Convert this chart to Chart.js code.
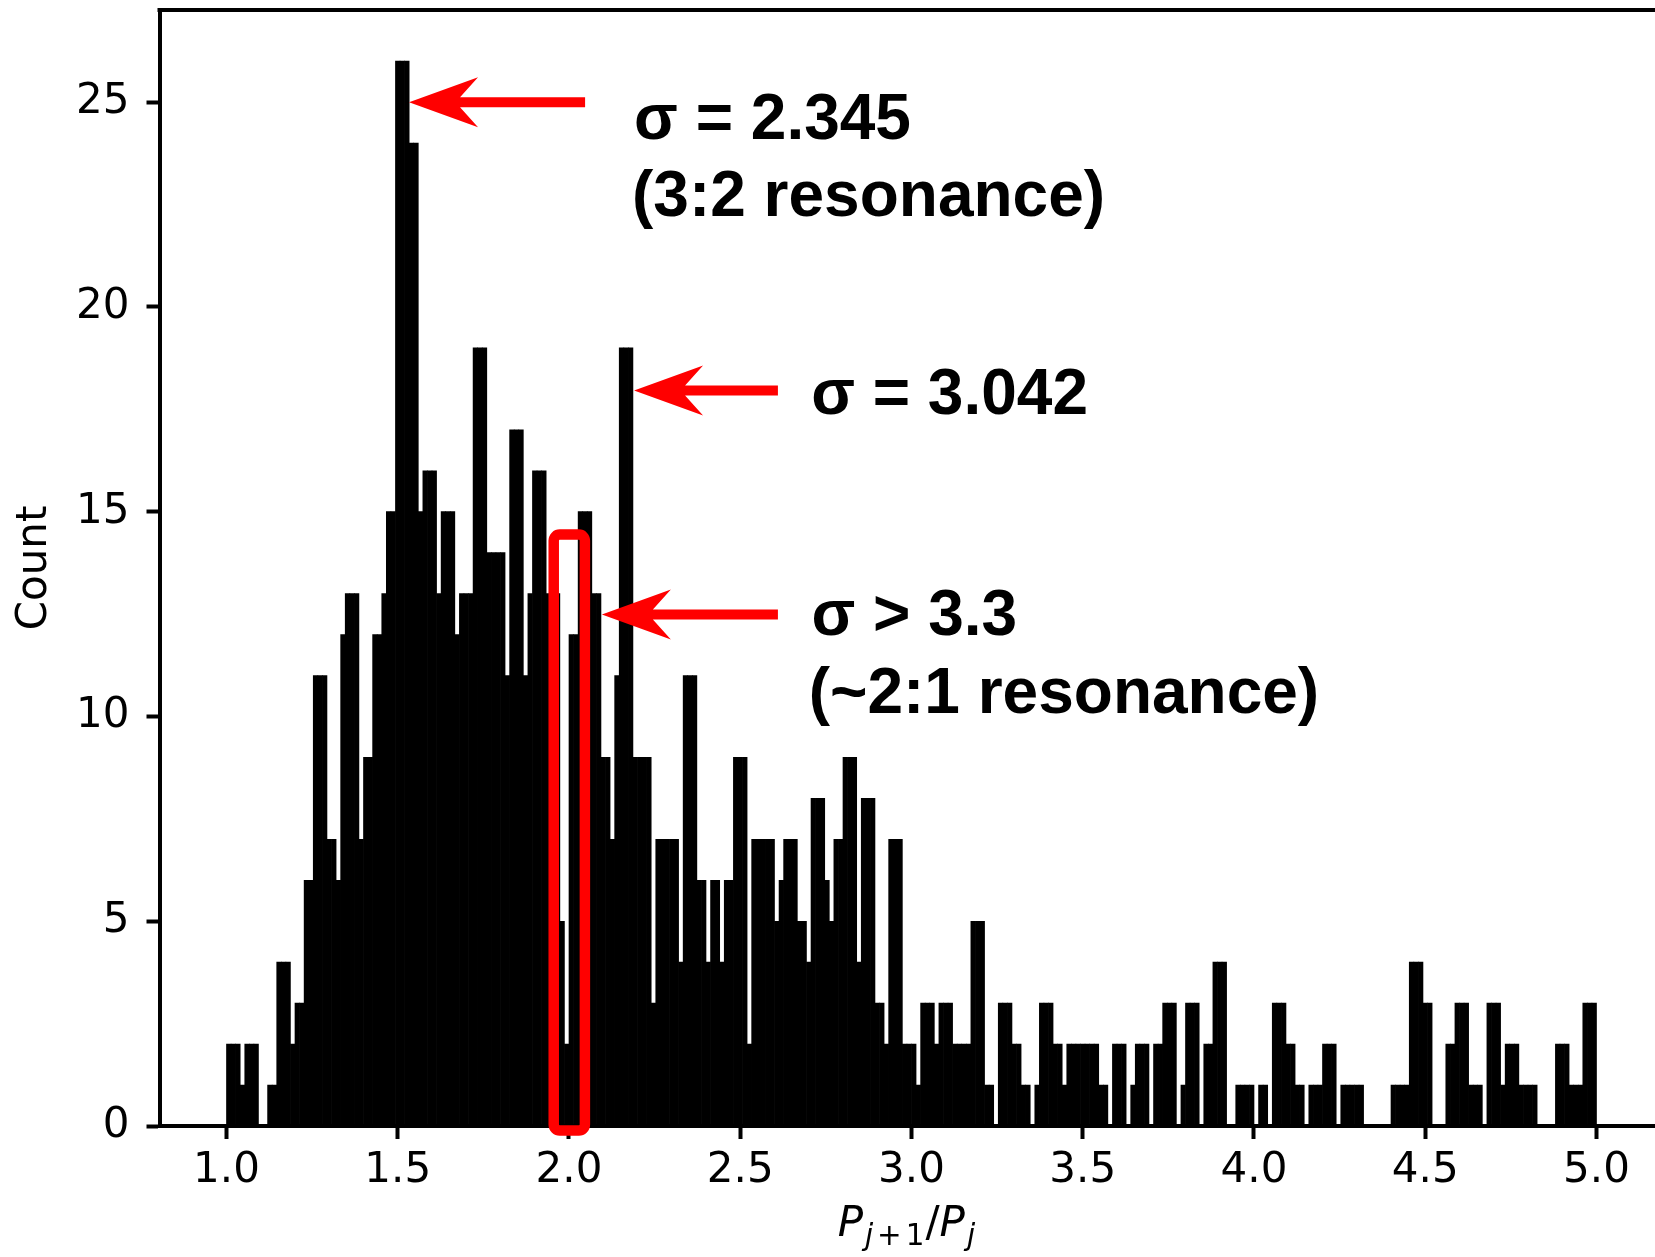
<!DOCTYPE html>
<html>
<head>
<meta charset="utf-8">
<title>Period ratio histogram</title>
<script src="https://cdn.jsdelivr.net/npm/chart.js@4.4.1/dist/chart.umd.min.js"></script>
<style>
  html, body { margin: 0; padding: 0; background: #fff; overflow: hidden; }
  canvas { display: block; }
</style>
</head>
<body>
<canvas id="hist" width="1655" height="1257"></canvas>
<script>
// P_{j+1}/P_j histogram : 300 bins between 1 and 5
var binStart = 1.0;
var binEnd = 5.0;
var counts = [
  2, 2, 2, 1, 2, 2, 2, 0, 0, 1,
  1, 4, 4, 4, 2, 3, 3, 6, 6, 11,
  11, 11, 7, 7, 6, 12, 13, 13, 13, 7,
  9, 9, 12, 12, 13, 15, 15, 26, 26, 26,
  24, 24, 15, 16, 16, 16, 13, 15, 15, 15,
  12, 13, 13, 13, 19, 19, 19, 14, 14, 14,
  14, 11, 17, 17, 17, 11, 13, 16, 16, 16,
  13, 13, 13, 5, 2, 12, 12, 15, 15, 15,
  13, 13, 9, 9, 7, 11, 19, 19, 19, 9,
  9, 9, 9, 3, 7, 7, 7, 7, 7, 4,
  11, 11, 11, 6, 6, 4, 6, 6, 4, 6,
  6, 9, 9, 9, 2, 7, 7, 7, 7, 7,
  5, 6, 7, 7, 7, 5, 5, 4, 8, 8,
  8, 6, 5, 7, 7, 9, 9, 9, 4, 8,
  8, 8, 3, 3, 2, 7, 7, 7, 2, 2,
  2, 1, 3, 3, 3, 2, 3, 3, 3, 2,
  2, 2, 2, 5, 5, 5, 1, 1, 0, 3,
  3, 3, 2, 2, 1, 1, 0, 1, 3, 3,
  3, 2, 2, 1, 2, 2, 2, 2, 2, 2,
  2, 1, 1, 0, 2, 2, 2, 0, 1, 2,
  2, 2, 0, 2, 2, 3, 3, 3, 0, 1,
  3, 3, 3, 0, 2, 2, 4, 4, 4, 0,
  0, 1, 1, 1, 1, 0, 1, 1, 0, 3,
  3, 3, 2, 2, 1, 1, 0, 1, 1, 1,
  2, 2, 2, 0, 1, 1, 1, 1, 1, 0,
  0, 0, 0, 0, 0, 1, 1, 1, 1, 4,
  4, 4, 3, 3, 0, 0, 0, 2, 2, 3,
  3, 3, 1, 1, 1, 0, 3, 3, 3, 1,
  2, 2, 2, 1, 1, 1, 1, 0, 0, 0,
  0, 2, 2, 2, 1, 1, 1, 3, 3, 3
];
var xTicks = [1.0, 1.5, 2.0, 2.5, 3.0, 3.5, 4.0, 4.5, 5.0];
var yTicks = [0, 5, 10, 15, 20, 25];

// red call-outs (x in ratio units, y in counts)
var arrowTip  = [1.533, 2.190, 2.096];
var arrowTail = [2.047, 2.610, 2.610];
var arrowY    = [25.0, 17.96, 12.49];
var noteText  = ['σ = 2.345', '(3:2 resonance)', 'σ = 3.042', 'σ > 3.3', '(~2:1 resonance)'];
var noteX     = [2.190, 2.184, 2.707, 2.708, 2.700];
var noteY     = [24.09, 22.21, 17.39, 11.99, 10.09];
var boxX = [1.9554, 2.0464];
var boxY = [-0.11, 14.44];

var binW = (binEnd - binStart) / counts.length;
var points = counts.map(function (c, i) {
  return { x: binStart + (i + 0.5) * binW, y: c };
});

var axisFont = { family: "'DejaVu Sans', sans-serif", size: 42 };

function drawArrow(ctx, tipX, tailX, y) {
  ctx.beginPath();
  ctx.moveTo(tipX, y);
  ctx.lineTo(tipX + 69, y - 25);
  ctx.lineTo(tipX + 51, y - 5);
  ctx.lineTo(tailX, y - 5);
  ctx.lineTo(tailX, y + 5);
  ctx.lineTo(tipX + 51, y + 5);
  ctx.lineTo(tipX + 69, y + 25);
  ctx.closePath();
  ctx.fill();
}

// mathtext-like P_{j+1}/P_j
function drawRatioLabel(ctx, cx, base) {
  var big = 42, small = 29.4, drop = 9;
  var it = 'italic ', fam = 'px "DejaVu Sans"';
  var parts = [
    { t: 'P', f: it + big + fam, dy: 0, gap: 2 },
    { t: 'j', f: it + small + fam, dy: drop, gap: 4 },
    { t: '+', f: small + fam, dy: drop, gap: 4 },
    { t: '1', f: small + fam, dy: drop, gap: 1 },
    { t: '/', f: big + fam, dy: 0, gap: 0 },
    { t: 'P', f: it + big + fam, dy: 0, gap: 2 },
    { t: 'j', f: it + small + fam, dy: drop, gap: 0 }
  ];
  var total = 0;
  parts.forEach(function (p) {
    ctx.font = p.f;
    p.w = ctx.measureText(p.t).width;
    total += p.w + p.gap;
  });
  var x = cx - total / 2;
  ctx.textAlign = 'left';
  ctx.textBaseline = 'alphabetic';
  ctx.fillStyle = '#000';
  parts.forEach(function (p) {
    ctx.font = p.f;
    ctx.fillText(p.t, x, base + p.dy);
    x += p.w + p.gap;
  });
}

var overlay = {
  id: 'overlay',
  afterDraw: function (chart) {
    var ctx = chart.ctx, a = chart.chartArea;
    var xs = chart.scales.x, ys = chart.scales.y;
    ctx.save();

    // top spine, right one is cut off
    ctx.strokeStyle = '#000';
    ctx.lineWidth = 4;
    ctx.beginPath();
    ctx.moveTo(a.left - 2, a.top);
    ctx.lineTo(a.right, a.top);
    ctx.stroke();

    drawRatioLabel(ctx, xs.getPixelForValue(2.985), a.bottom + 110);

    // box round the 2.0 bin
    var bx0 = xs.getPixelForValue(boxX[0]), bx1 = xs.getPixelForValue(boxX[1]);
    var by0 = ys.getPixelForValue(boxY[1]), by1 = ys.getPixelForValue(boxY[0]);
    ctx.strokeStyle = '#ff0000';
    ctx.lineWidth = 10.5;
    ctx.beginPath();
    ctx.roundRect(bx0, by0, bx1 - bx0, by1 - by0, 6);
    ctx.stroke();

    ctx.fillStyle = '#ff0000';
    for (var i = 0; i < arrowTip.length; i++) {
      drawArrow(ctx, xs.getPixelForValue(arrowTip[i]), xs.getPixelForValue(arrowTail[i]), ys.getPixelForValue(arrowY[i]));
    }

    ctx.fillStyle = '#000';
    ctx.font = 'bold 64px "Liberation Sans", Arial, sans-serif';
    ctx.textAlign = 'left';
    ctx.textBaseline = 'alphabetic';
    for (var k = 0; k < noteText.length; k++) {
      ctx.fillText(noteText[k], xs.getPixelForValue(noteX[k]), ys.getPixelForValue(noteY[k]));
    }
    ctx.restore();
  }
};

new Chart(document.getElementById('hist'), {
  type: 'bar',
  data: {
    datasets: [{
      data: points,
      backgroundColor: '#000',
      borderWidth: 0,
      barPercentage: 1,
      categoryPercentage: 1
    }]
  },
  options: {
    responsive: false,
    animation: false,
    events: [],
    layout: { padding: { top: 10, left: 0, right: 0, bottom: 0 } },
    plugins: {
      legend: { display: false },
      tooltip: { enabled: false }
    },
    scales: {
      x: {
        type: 'linear',
        position: 'bottom',
        min: 0.8044,
        max: 5.1708,
        offset: false,
        grid: { offset: false, drawOnChartArea: false, drawTicks: true, tickLength: 13, tickWidth: 4, tickColor: '#000' },
        border: { display: true, color: '#000', width: 4 },
        ticks: {
          color: '#000',
          font: axisFont,
          padding: 7,
          maxRotation: 0,
          autoSkip: false,
          callback: function (v) { return Number(v).toFixed(1); }
        },
        afterBuildTicks: function (s) { s.ticks = xTicks.map(function (v) { return { value: v }; }); },
        afterFit: function (s) {
          s.height = 131;
          s.paddingLeft = 0;
          s.paddingRight = 0;
        }
      },
      y: {
        min: 0,
        max: 27.25,
        grid: { drawOnChartArea: false, drawTicks: true, tickLength: 13, tickWidth: 4, tickColor: '#000' },
        border: { display: true, color: '#000', width: 4 },
        ticks: { color: '#000', font: axisFont, padding: 17 },
        title: { display: true, text: 'Count', color: '#000', font: axisFont, padding: { top: 10, bottom: 0 } },
        afterBuildTicks: function (s) { s.ticks = yTicks.map(function (v) { return { value: v }; }); },
        afterFit: function (s) {
          s.width = 159.5;
          s.paddingTop = 0;
          s.paddingBottom = 0;
        }
      }
    }
  },
  plugins: [overlay]
});
</script>
</body>
</html>
